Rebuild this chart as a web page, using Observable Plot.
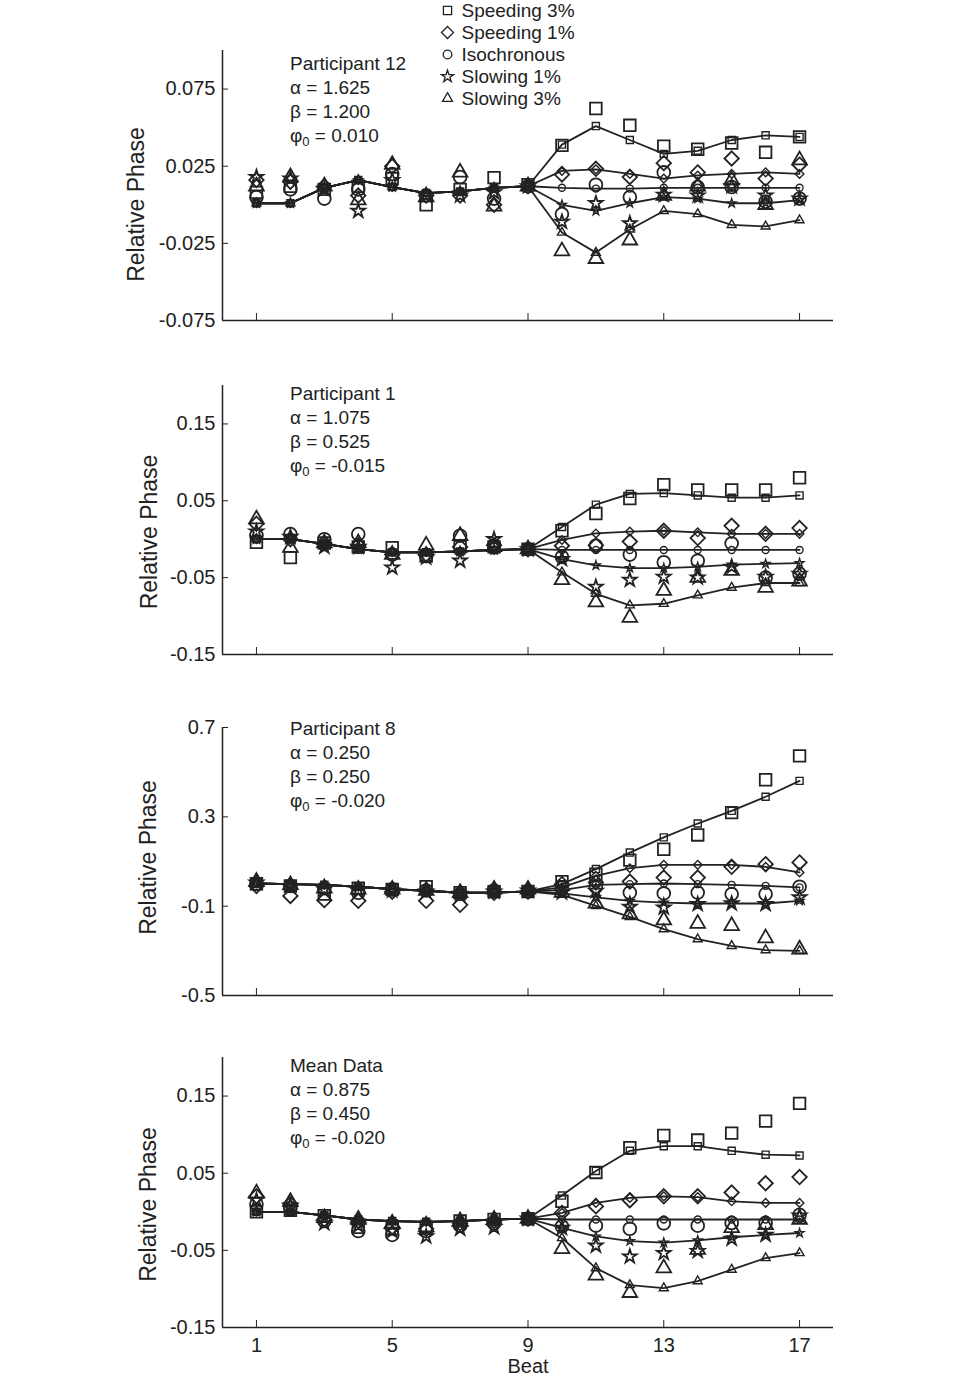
<!DOCTYPE html>
<html>
<head>
<meta charset="utf-8">
<script src="https://cdn.jsdelivr.net/npm/d3@7"></script>
<script src="https://cdn.jsdelivr.net/npm/@observablehq/plot@0.6"></script>
<style>
  html, body { margin: 0; padding: 0; background: #fff; }
  #wrap { position: relative; width: 960px; height: 1377px; overflow: hidden; font-family: "Liberation Sans", Arial, sans-serif; color: #222; }
  #wrap svg { position: absolute; left: 0; }
  .note { position: absolute; left: 290px; font-size: 19px; line-height: 24px; color: #222; white-space: nowrap; }
  .note sub { font-size: 13px; vertical-align: -4px; line-height: 0; }
</style>
</head>
<body>
<div id="wrap"></div>
<script>
// ---------- shared categories ----------
const conditions = ["Speeding 3%", "Speeding 1%", "Isochronous", "Slowing 1%", "Slowing 3%"];
const symbolNames = ["square2", "diamond2", "circle", "star", "triangle2"];
const beats = [1, 2, 3, 4, 5, 6, 7, 8, 9, 10, 11, 12, 13, 14, 15, 16, 17];
const beatTicks = [1, 5, 9, 13, 17];

// ---------- Panel 1: Participant 12 ----------
const p12Params = ["Participant 12", "1.625", "1.200", "0.010"];
const p12YTicks = [0.075, 0.025, -0.025, -0.075];
const p12YLabels = ["0.075", "0.025", "-0.025", "-0.075"];
const p12ModelShared = [0.001, 0.001, 0.011, 0.016, 0.0115, 0.0076, 0.0087, 0.011, 0.012];
const p12ModelS3 = [0.039, 0.051, 0.042, 0.033, 0.035, 0.042, 0.045, 0.044];
const p12ModelS1 = [0.022, 0.023, 0.020, 0.017, 0.019, 0.020, 0.021, 0.020];
const p12ModelIso = [0.011, 0.0105, 0.0105, 0.011, 0.011, 0.011, 0.011, 0.011];
const p12ModelSl1 = [0.000, -0.004, 0.001, 0.005, 0.004, 0.001, 0.001, 0.003];
const p12ModelSl3 = [-0.018, -0.031, -0.016, -0.004, -0.006, -0.013, -0.014, -0.010];
const p12DataS3 = [0.008, 0.012, 0.010, 0.012, 0.017, 0.000, 0.010, 0.0176, 0.013, 0.0385, 0.0624, 0.0515, 0.038, 0.036, 0.040, 0.034, 0.044];
const p12DataS1 = [0.016, 0.015, 0.012, 0.006, 0.025, 0.006, 0.006, 0.000, 0.012, 0.0196, 0.0233, 0.018, 0.027, 0.021, 0.030, 0.017, 0.026];
const p12DataIso = [0.005, 0.010, 0.004, 0.010, 0.020, 0.006, 0.018, 0.004, 0.012, -0.006, 0.013, 0.005, 0.021, 0.0115, 0.0115, 0.002, 0.004];
const p12DataSl1 = [0.018, 0.017, 0.010, -0.004, 0.016, 0.006, 0.006, 0.008, 0.012, -0.011, 0.001, -0.012, 0.0065, 0.006, 0.012, 0.006, 0.004];
const p12DataSl3 = [0.012, 0.018, 0.012, 0.003, 0.026, 0.005, 0.021, -0.001, 0.012, -0.030, -0.035, -0.023, 0.006, 0.012, 0.016, 0.000, 0.029];

// ---------- Panel 2: Participant 1 ----------
const p1Params = ["Participant 1", "1.075", "0.525", "-0.015"];
const p1YTicks = [0.15, 0.05, -0.05, -0.15];
const p1YLabels = ["0.15", "0.05", "-0.05", "-0.15"];
const p1ModelShared = [0.000, 0.000, -0.006, -0.013, -0.017, -0.017, -0.016, -0.014, -0.013];
const p1ModelS3 = [0.016, 0.045, 0.059, 0.060, 0.057, 0.054, 0.054, 0.057];
const p1ModelS1 = [-0.001, 0.0075, 0.010, 0.011, 0.009, 0.007, 0.007, 0.007];
const p1ModelIso = [-0.014, -0.014, -0.014, -0.014, -0.014, -0.014, -0.014, -0.014];
const p1ModelSl1 = [-0.026, -0.034, -0.0375, -0.0375, -0.036, -0.033, -0.032, -0.031];
const p1ModelSl3 = [-0.043, -0.071, -0.086, -0.084, -0.073, -0.063, -0.057, -0.057];
const p1DataS3 = [-0.004, -0.024, -0.005, -0.010, -0.011, -0.022, -0.010, -0.010, -0.013, 0.011, 0.0335, 0.053, 0.071, 0.064, 0.064, 0.064, 0.080];
const p1DataS1 = [0.020, 0.000, -0.005, -0.008, -0.020, -0.020, -0.010, -0.008, -0.013, -0.0085, -0.008, -0.003, 0.011, 0.0015, 0.0175, 0.007, 0.0145];
const p1DataIso = [0.005, 0.0067, 0.000, 0.0067, -0.020, -0.022, 0.0045, -0.008, -0.013, -0.023, -0.0085, -0.020, -0.030, -0.028, -0.0055, -0.050, -0.045];
const p1DataSl1 = [0.010, 0.003, -0.010, -0.010, -0.037, -0.024, -0.028, 0.000, -0.013, -0.026, -0.062, -0.053, -0.049, -0.050, -0.036, -0.049, -0.045];
const p1DataSl3 = [0.026, -0.011, -0.005, -0.005, -0.020, -0.008, 0.0045, -0.010, -0.013, -0.053, -0.082, -0.102, -0.067, -0.050, -0.041, -0.063, -0.055];

// ---------- Panel 3: Participant 8 ----------
const p8Params = ["Participant 8", "0.250", "0.250", "-0.020"];
const p8YTicks = [0.7, 0.3, -0.1, -0.5];
const p8YLabels = ["0.7", "0.3", "-0.1", "-0.5"];
const p8ModelShared = [0.0015, -0.0015, -0.0045, -0.013, -0.024, -0.031, -0.040, -0.039, -0.034];
const p8ModelS3 = [-0.0015, 0.066, 0.140, 0.208, 0.270, 0.327, 0.390, 0.461];
const p8ModelS1 = [-0.016, 0.036, 0.070, 0.085, 0.085, 0.085, 0.076, 0.051];
const p8ModelIso = [-0.028, -0.0045, -0.0015, 0.0015, -0.0015, -0.0045, -0.009, -0.016];
const p8ModelSl1 = [-0.043, -0.061, -0.076, -0.084, -0.088, -0.088, -0.088, -0.076];
const p8ModelSl3 = [-0.049, -0.099, -0.148, -0.203, -0.248, -0.278, -0.297, -0.300];
const p8DataS3 = [0.000, -0.010, -0.046, -0.020, -0.025, -0.013, -0.040, -0.035, -0.034, 0.010, 0.043, 0.106, 0.155, 0.219, 0.319, 0.466, 0.573];
const p8DataS1 = [-0.010, -0.054, -0.073, -0.076, -0.035, -0.076, -0.094, -0.040, -0.034, -0.0015, 0.006, 0.010, 0.028, 0.028, 0.076, 0.088, 0.096];
const p8DataIso = [0.000, -0.010, -0.020, -0.040, -0.025, -0.030, -0.045, -0.030, -0.034, -0.016, -0.013, -0.039, -0.043, -0.039, -0.046, -0.046, -0.013];
const p8DataSl1 = [0.005, -0.015, -0.025, -0.030, -0.030, -0.035, -0.045, -0.035, -0.030, -0.039, -0.031, -0.103, -0.106, -0.091, -0.088, -0.091, -0.061];
const p8DataSl3 = [0.010, -0.005, -0.020, -0.025, -0.025, -0.030, -0.040, -0.025, -0.025, -0.039, -0.088, -0.136, -0.163, -0.178, -0.188, -0.243, -0.293];

// ---------- Panel 4: Mean Data ----------
const meanParams = ["Mean Data", "0.875", "0.450", "-0.020"];
const meanYTicks = [0.15, 0.05, -0.05, -0.15];
const meanYLabels = ["0.15", "0.05", "-0.05", "-0.15"];
const meanModelShared = [0.000, 0.000, -0.0046, -0.010, -0.012, -0.013, -0.012, -0.010, -0.009];
const meanModelS3 = [0.021, 0.053, 0.079, 0.085, 0.085, 0.079, 0.074, 0.073];
const meanModelS1 = [-0.0015, 0.0115, 0.018, 0.020, 0.019, 0.0136, 0.0115, 0.0115];
const meanModelIso = [-0.010, -0.010, -0.010, -0.010, -0.010, -0.010, -0.010, -0.010];
const meanModelSl1 = [-0.021, -0.032, -0.038, -0.040, -0.037, -0.033, -0.030, -0.0275];
const meanModelSl3 = [-0.034, -0.073, -0.095, -0.099, -0.090, -0.075, -0.060, -0.0535];
const meanDataS3 = [0.000, 0.002, -0.005, -0.020, -0.022, -0.020, -0.012, -0.010, -0.009, 0.0136, 0.051, 0.083, 0.099, 0.093, 0.102, 0.1175, 0.1405];
const meanDataS1 = [0.020, 0.010, -0.010, -0.012, -0.020, -0.022, -0.015, -0.012, -0.009, -0.0015, 0.007, 0.015, 0.020, 0.020, 0.025, 0.037, 0.045];
const meanDataIso = [0.010, 0.005, -0.012, -0.025, -0.030, -0.025, -0.018, -0.015, -0.009, -0.019, -0.018, -0.022, -0.015, -0.018, -0.0145, -0.0145, -0.004];
const meanDataSl1 = [0.015, 0.008, -0.015, -0.018, -0.025, -0.032, -0.022, -0.020, -0.009, -0.021, -0.044, -0.058, -0.0535, -0.051, -0.035, -0.030, -0.005];
const meanDataSl3 = [0.024, 0.013, -0.008, -0.010, -0.015, -0.020, -0.012, -0.010, -0.009, -0.048, -0.0825, -0.105, -0.073, -0.049, -0.021, -0.017, -0.010];

// ---------- styling (marker radii per symbol; not data) ----------
const wrap = document.getElementById("wrap");
const ink = "#222";
const font = "'Liberation Sans', Arial, sans-serif";
const dataR = [7.4, 6.5, 6.4, 4.3, 7];
const modelR = [4.5, 3.9, 3.5, 2.7, 4.3];
const legendR = [5.2, 5.4, 4.3, 3.8, 4.8];
const rOf = (arr) => (c) => arr[conditions.indexOf(c)];

function buildPanel(cfg) {
  const modelRows = [], dataRows = [];
  conditions.forEach((c, i) => {
    const m = cfg.shared.concat(cfg.model[i]);
    beats.forEach((b, j) => {
      modelRows.push({cond: c, beat: b, value: m[j]});
      dataRows.push({cond: c, beat: b, value: cfg.data[i][j]});
    });
  });
  const xAxis = cfg.showX
    ? Plot.axisX({ticks: beatTicks, tickSize: -7, tickPadding: 17, fontSize: 20, label: "Beat", labelAnchor: "center", labelArrow: "none", labelOffset: 45})
    : Plot.axisX({ticks: beatTicks, tickSize: -7, fill: "none", label: null});
  const plot = Plot.plot({
    width: 960,
    height: cfg.height,
    marginLeft: 222,
    marginRight: 127,
    marginTop: cfg.marginTop,
    marginBottom: cfg.marginBottom,
    style: {fontFamily: font, fontSize: "20px", color: ink, background: "transparent", overflow: "visible"},
    x: {domain: [0, 18]},
    y: {domain: cfg.yDomain},
    r: {type: "identity"},
    symbol: {domain: conditions, range: symbolNames},
    marks: [
      Plot.ruleX([0], {stroke: ink, strokeWidth: 1.5}),
      Plot.ruleY([cfg.yDomain[0]], {stroke: ink, strokeWidth: 1.5}),
      Plot.axisY({ticks: cfg.yTicks, tickFormat: (d) => cfg.yLabels[cfg.yTicks.indexOf(d)], tickSize: -6, tickPadding: 13, fontSize: 20, label: null}),
      Plot.text(["Relative Phase"], {frameAnchor: "left", textAnchor: "middle", rotate: -90, dx: -cfg.labelDx, dy: cfg.labelDy, fontSize: 23, fill: ink}),
      xAxis,
      Plot.line(modelRows, {x: "beat", y: "value", z: "cond", stroke: ink, strokeWidth: 1.8}),
      Plot.dot(modelRows, {x: "beat", y: "value", symbol: "cond", r: (d) => rOf(modelR)(d.cond), stroke: ink, fill: "none", strokeWidth: 1.4}),
      Plot.dot(dataRows, {x: "beat", y: "value", symbol: "cond", r: (d) => rOf(dataR)(d.cond), stroke: ink, fill: "none", strokeWidth: 1.8})
    ]
  });
  plot.style.top = cfg.top + "px";
  wrap.appendChild(plot);

  const note = document.createElement("div");
  note.className = "note";
  note.style.top = cfg.noteTop + "px";
  note.innerHTML = `${cfg.params[0]}<br>α = ${cfg.params[1]}<br>β = ${cfg.params[2]}<br>φ<sub>0</sub> = ${cfg.params[3]}`;
  wrap.appendChild(note);
}

buildPanel({params: p12Params, shared: p12ModelShared, model: [p12ModelS3, p12ModelS1, p12ModelIso, p12ModelSl1, p12ModelSl3],
  data: [p12DataS3, p12DataS1, p12DataIso, p12DataSl1, p12DataSl3], yDomain: [-0.075, 0.1], yTicks: p12YTicks, yLabels: p12YLabels,
  top: 0, height: 340, marginTop: 50, marginBottom: 20, labelDx: 86, labelDy: 19, noteTop: 52, showX: false});
buildPanel({params: p1Params, shared: p1ModelShared, model: [p1ModelS3, p1ModelS1, p1ModelIso, p1ModelSl1, p1ModelSl3],
  data: [p1DataS3, p1DataS1, p1DataIso, p1DataSl1, p1DataSl3], yDomain: [-0.15, 0.2], yTicks: p1YTicks, yLabels: p1YLabels,
  top: 340, height: 334, marginTop: 45, marginBottom: 20, labelDx: 73, labelDy: 12, noteTop: 382, showX: false});
buildPanel({params: p8Params, shared: p8ModelShared, model: [p8ModelS3, p8ModelS1, p8ModelIso, p8ModelSl1, p8ModelSl3],
  data: [p8DataS3, p8DataS1, p8DataIso, p8DataSl1, p8DataSl3], yDomain: [-0.5, 0.7], yTicks: p8YTicks, yLabels: p8YLabels,
  top: 674, height: 341, marginTop: 53, marginBottom: 20, labelDx: 74, labelDy: -4, noteTop: 717, showX: false});
buildPanel({params: meanParams, shared: meanModelShared, model: [meanModelS3, meanModelS1, meanModelIso, meanModelSl1, meanModelSl3],
  data: [meanDataS3, meanDataS1, meanDataIso, meanDataSl1, meanDataSl3], yDomain: [-0.15, 0.2], yTicks: meanYTicks, yLabels: meanYLabels,
  top: 1015, height: 362, marginTop: 42, marginBottom: 50, labelDx: 74, labelDy: 12, noteTop: 1054, showX: true});

// ---------- legend ----------
const legend = Plot.plot({
  width: 170, height: 108, margin: 0,
  style: {fontFamily: font, fontSize: "19px", color: ink, background: "transparent", overflow: "visible"},
  x: {axis: null, domain: [0, 1]},
  y: {type: "point", domain: conditions, range: [9, 98], padding: 0, axis: null},
  r: {type: "identity"},
  symbol: {domain: conditions, range: symbolNames},
  marks: [
    Plot.dot(conditions, {y: (d) => d, frameAnchor: "left", dx: 7, symbol: (d) => d, r: rOf(legendR), stroke: ink, fill: "none", strokeWidth: 1.3}),
    Plot.text(conditions, {y: (d) => d, frameAnchor: "left", dx: 21, text: (d) => d, textAnchor: "start", fill: ink})
  ]
});
legend.style.top = "0px";
legend.style.left = "440px";
wrap.appendChild(legend);
</script>
</body>
</html>
